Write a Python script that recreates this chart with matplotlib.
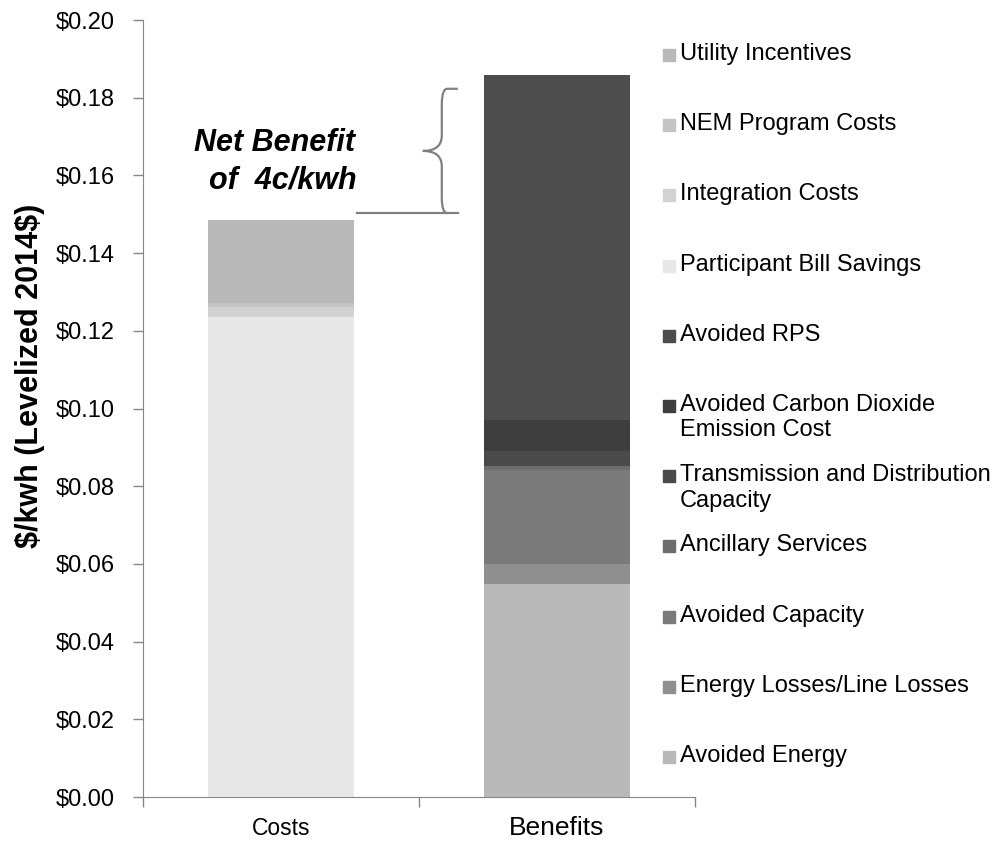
import matplotlib.pyplot as plt
from matplotlib.patches import Rectangle, PathPatch
from matplotlib.path import Path
from matplotlib.ticker import FuncFormatter

plt.rcParams['font.family'] = ['Liberation Sans', 'DejaVu Sans']

# categories on the x axis
categories = ['Costs', 'Benefits']

# cost components (bottom to top), $/kwh
cost_names = ['Participant Bill Savings', 'Integration Costs',
              'NEM Program Costs', 'Utility Incentives']
cost_values = [0.1236, 0.0026, 0.0010, 0.0213]
cost_colors = ['#e8e8e8', '#d2d2d2', '#c4c4c4', '#b9b9b9']

# benefit components (bottom to top), $/kwh
benefit_names = ['Avoided Energy', 'Energy Losses/Line Losses', 'Avoided Capacity',
                 'Ancillary Services', 'Transmission and Distribution\nCapacity',
                 'Avoided Carbon Dioxide\nEmission Cost', 'Avoided RPS']
benefit_values = [0.0548, 0.0051, 0.0243, 0.0010, 0.0038, 0.0080, 0.0888]
benefit_colors = ['#b9b9b9', '#8f8f8f', '#7a7a7a', '#6e6e6e', '#4a4a4a', '#3e3e3e', '#4d4d4d']

fig = plt.figure(figsize=(10.07, 8.41), dpi=100)
ax = fig.add_axes([0.142, 0.0523, 0.548, 0.9239])

bar_w = 0.53
bottom = 0
for name, val, col in zip(cost_names, cost_values, cost_colors):
    ax.bar(0, val, bar_w, bottom=bottom, color=col, label=name)
    bottom += val
cost_total = bottom

bottom = 0
for name, val, col in zip(benefit_names, benefit_values, benefit_colors):
    ax.bar(1, val, bar_w, bottom=bottom, color=col, label=name)
    bottom += val
benefit_total = bottom

ax.set_xlim(-0.5, 1.5)
ax.set_ylim(0, 0.20)
ax.set_yticks([i * 0.02 for i in range(11)])
ax.yaxis.set_major_formatter(FuncFormatter(lambda v, p: '\\${:.2f}'.format(v)))
ax.set_xticks([-0.5, 0.5, 1.5])
ax.set_xticklabels(['', '', ''])
ax.tick_params(axis='y', length=7, width=1, color='#868686', pad=13, labelsize=17)
ax.tick_params(axis='x', length=7, width=1, color='#868686')
for s in ['top', 'right']:
    ax.spines[s].set_visible(False)
for s in ['left', 'bottom']:
    ax.spines[s].set_color('#868686')

# category labels (Benefits is larger in the original)
ax.text(0, -0.0052, categories[0], ha='center', va='top', fontsize=16.5)
ax.text(1, -0.005, categories[1], ha='center', va='top', fontsize=19)

ax.set_ylabel('\\$/kwh (Levelized 2014\\$)', fontsize=22, fontweight='bold')
ax.yaxis.set_label_coords(-0.178, 0.542)

# net benefit annotation
ax.text(-0.025, 0.1635, 'Net Benefit\n  of  4c/kwh', fontsize=22, fontweight='bold',
        style='italic', ha='center', va='center', linespacing=1.3)

top = benefit_total - 0.0035
bot = cost_total + 0.0018
mid = (top + bot) / 2
xv, xr, xt = 0.583, 0.641, 0.514
r = 0.004
verts = [(xr, top), (xv + 0.02, top), (xv, top), (xv, top - r),
         (xv, mid + r), (xv, mid), (xt, mid),
         (xv, mid), (xv, mid - r),
         (xv, bot + r), (xv, bot), (xv + 0.02, bot)]
codes = [Path.MOVETO, Path.LINETO, Path.CURVE3, Path.CURVE3,
         Path.LINETO, Path.CURVE3, Path.CURVE3,
         Path.CURVE3, Path.CURVE3,
         Path.LINETO, Path.CURVE3, Path.CURVE3]
ax.add_patch(PathPatch(Path(verts, codes), fill=False, edgecolor='#808080', lw=1.6))
ax.plot([0.275, xr], [bot, bot], color='#808080', lw=1.6)

# legend, Excel-style even spacing
leg_names = cost_names[::-1] + benefit_names[::-1]
leg_colors = cost_colors[::-1] + benefit_colors[::-1]
W, H = 1007, 841
for i, (name, col) in enumerate(zip(leg_names, leg_colors)):
    py = 55 + i * 70.2
    fig.patches.append(Rectangle((663 / W, 1 - (py + 6) / H), 12 / W, 12 / H,
                                 transform=fig.transFigure, color=col))
    fig.text(680 / W, 1 - (py - 12) / H, name, fontsize=17, va='top', ha='left',
             linespacing=1.2)

fig.savefig('out.png', dpi=100)
